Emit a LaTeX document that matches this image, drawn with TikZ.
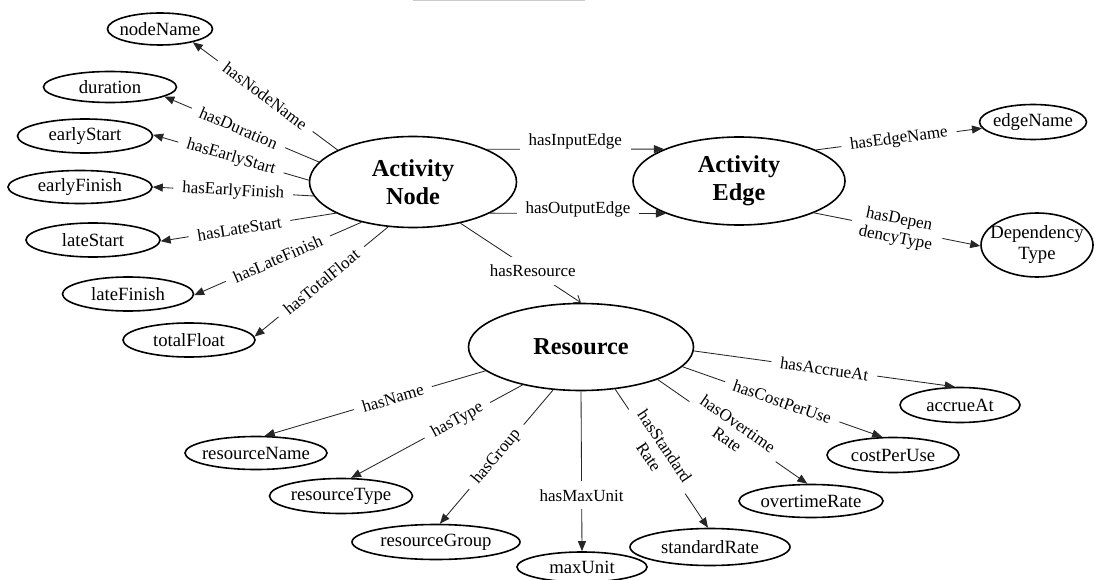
\documentclass[tikz,border=0pt]{standalone}
\usepackage{fontspec}
\setmainfont{Liberation Serif}
\usetikzlibrary{arrows.meta,shapes.geometric}

% zero-width box: the ellipse size is then set by minimum width/height alone
\newcommand\cname[1]{\makebox[0pt]{#1}}

\begin{document}
\begin{tikzpicture}[x=1pt,y=-1pt,
  cls/.style={ellipse, draw, line width=1.6pt, inner sep=0pt,
              font=\fontsize{18.7}{21}\selectfont},
  core/.style={cls, align=center, font=\fontsize{24.3}{28}\selectfont\bfseries},
  rel/.style={draw=black!85, line width=0.85pt, -{Triangle[length=10pt,width=8pt]}},
  relopen/.style={draw=black!85, line width=0.85pt, -{Straight Barb[length=6pt,width=9pt]}},
  lbl/.style={fill=white, inner xsep=9pt, inner ysep=3pt, align=center,
              font=\fontsize{17}{19}\selectfont},
  slbl/.style={lbl, sloped},
  hlbl/.style={lbl, inner ysep=8pt}
]
\useasboundingbox (0,0) rectangle (1094,580);

% faint rule at the top edge
\draw[gray!40, line width=1.5pt] (413,0.6) -- (585,0.6);

% main classes
\node[core, minimum width=207pt, minimum height=91pt] (an) at (413,182) {Activity\\Node};
\node[core, minimum width=212pt, minimum height=88pt] (ae) at (739,181) {Activity\\Edge};
\node[core, minimum width=225pt, minimum height=87pt] (res) at (581,347) {Resource};

% activity node properties
\node[cls, minimum width=105pt, minimum height=32pt] (nodename) at (160,29) {\cname{nodeName}};
\node[cls, minimum width=133pt, minimum height=31pt] (duration) at (110,87) {\cname{duration}};
\node[cls, minimum width=135pt, minimum height=34pt] (earlystart) at (85,136) {\cname{earlyStart}};
\node[cls, minimum width=144pt, minimum height=33pt] (earlyfinish) at (80,187) {\cname{earlyFinish}};
\node[cls, minimum width=134pt, minimum height=34pt] (latestart) at (93,240) {\cname{lateStart}};
\node[cls, minimum width=131pt, minimum height=34pt] (latefinish) at (128,294) {\cname{lateFinish}};
\node[cls, minimum width=132pt, minimum height=34pt] (totalfloat) at (189,340) {\cname{totalFloat}};

% activity edge properties
\node[cls, minimum width=107pt, minimum height=35pt] (edgename) at (1033,122) {\cname{edgeName}};
\node[cls, minimum width=112pt, minimum height=64pt] (deptype) at (1037,245)
  {\cname{\begin{tabular}{@{}c@{}}Dependency\\Type\end{tabular}}};

% resource properties
\node[cls, minimum width=142pt, minimum height=33pt] (rname) at (256,453) {\cname{resourceName}};
\node[cls, minimum width=143pt, minimum height=35pt] (rtype) at (341,496) {\cname{resourceType}};
\node[cls, minimum width=168pt, minimum height=35pt] (rgroup) at (436,542) {\cname{resourceGroup}};
\node[cls, minimum width=130pt, minimum height=30pt] (maxunit) at (582,567) {\cname{maxUnit}};
\node[cls, minimum width=160pt, minimum height=37pt] (stdrate) at (710,547) {\cname{standardRate}};
\node[cls, minimum width=144pt, minimum height=33pt] (otrate) at (811,501) {\cname{overtimeRate}};
\node[cls, minimum width=132pt, minimum height=35pt] (costpu) at (893,455) {\cname{costPerUse}};
\node[cls, minimum width=120pt, minimum height=35pt] (accrueat) at (960,405) {\cname{accrueAt}};

% relations of Activity Node
\draw[rel] (an.157) -- node[slbl] {hasNodeName} (nodename.338);
\draw[rel] (an.168) -- node[slbl, pos=0.52] {hasDuration} (duration.350);
\draw[rel] (an.179) -- node[slbl] {hasEarlyStart} (earlystart.1);
\draw[rel] (an.188) -- node[slbl] {hasEarlyFinish} (earlyfinish.0);
\draw[rel] (an.202) -- node[slbl, pos=0.55] {hasLateStart} (latestart.359);
\draw[rel] (an.218) -- node[slbl] {hasLateFinish} (latefinish.359);
\draw[rel] (an.241) -- node[slbl] {hasTotalFloat} (totalfloat.3);
\draw[rel] (an.24) -- node[lbl, yshift=8pt] {hasInputEdge} (ae.157.5);
\draw[rel] (an.338) -- node[lbl, yshift=4pt] {hasOutputEdge} (ae.204);
\draw[relopen] (an.319) -- node[hlbl, pos=0.6] {hasResource} (res.90);

% relations of Activity Edge
\draw[rel] (ae.22) -- node[slbl] {hasEdgeName} (edgename.187);
\draw[rel] (ae.337) -- node[slbl] {hasDepen\\dencyType} (deptype.181);

% relations of Resource
\draw[rel] (res.194) -- node[slbl, pos=0.42] {hasName} (rname.63);
\draw[rel] (res.213) -- node[slbl, pos=0.38] {hasType} (rtype.61);
\draw[rel] (res.237) -- node[slbl] {hasGroup} (rgroup.78);
\draw[rel] (res.270) -- node[hlbl, pos=0.65] {hasMaxUnit} (maxunit.90);
\draw[rel] (res.309) -- node[slbl, pos=0.45] {hasStandard\\Rate} (stdrate.96);
\draw[rel] (res.337) -- node[slbl] {hasOvertime\\Rate} (otrate.102);
\draw[rel] (res.349) -- node[slbl] {hasCostPerUse} (costpu.121);
\draw[rel] (res.358.5) -- node[slbl] {hasAccrueAt} (accrueat.106);
\end{tikzpicture}
\end{document}
